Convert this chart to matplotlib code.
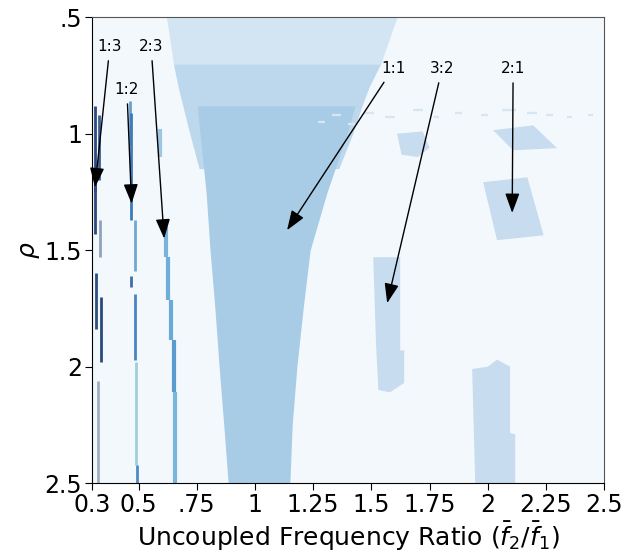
import matplotlib
matplotlib.use('Agg')
import matplotlib.pyplot as plt

# 背景與顏色
bg_color = '#f3f8fd'
tongue_color = '#a8cce5'
speckle_top_color = '#d3e5f3'
speckle_low_color = '#bdd8ec'
patch_color = '#c7dcef'

# 1:1 主要鎖頻區 (實心部分): rho 與左右邊界
tongue_rho = [0.88, 1.0, 1.25, 1.5, 1.75, 2.0, 2.25, 2.5]
tongue_left = [0.752, 0.764, 0.79, 0.807, 0.828, 0.846, 0.866, 0.885]
tongue_right = [1.43, 1.396, 1.31, 1.237, 1.207, 1.18, 1.16, 1.15]

# 1:1 上方散點區 (上層較稀, 下層較密)
speck_rho = [0.5, 0.6, 0.7]
speck_left = [0.62, 0.635, 0.65]
speck_right = [1.61, 1.575, 1.54]
speck2_rho = [0.7, 0.8, 0.88, 1.0, 1.15]
speck2_left = [0.65, 0.67, 0.69, 0.72, 0.76]
speck2_right = [1.54, 1.49, 1.46, 1.42, 1.36]

# 其他鎖頻區 (多邊形頂點: 頻率比, rho)
patch_32_x = [1.508, 1.624, 1.624, 1.641, 1.641, 1.58, 1.53, 1.52]
patch_32_y = [1.53, 1.53, 1.93, 1.93, 2.07, 2.11, 2.10, 1.90]
patch_21_x = [1.98, 2.17, 2.24, 2.04]
patch_21_y = [1.208, 1.187, 1.436, 1.457]
patch_21b_x = [2.023, 2.195, 2.298, 2.109]
patch_21b_y = [0.985, 0.964, 1.062, 1.071]
patch_32b_x = [1.61, 1.72, 1.75, 1.70, 1.63]
patch_32b_y = [1.00, 0.99, 1.06, 1.10, 1.09]
patch_low_x = [1.933, 2.0, 2.04, 2.096, 2.096, 2.118, 2.118, 1.946]
patch_low_y = [2.01, 2.0, 1.97, 2.0, 2.285, 2.29, 2.5, 2.5]

# rho 約 0.92 附近的水平散點帶 (x 範圍)
band_x0 = [1.27, 1.33, 1.40, 1.47, 1.56, 1.68, 1.77, 1.86, 1.97, 2.06, 2.17, 2.25, 2.34, 2.43]
band_x1 = [1.30, 1.37, 1.43, 1.51, 1.60, 1.72, 1.79, 1.89, 2.00, 2.12, 2.21, 2.28, 2.36, 2.45]
band_rho = [0.95, 0.92, 0.96, 0.91, 0.93, 0.90, 0.93, 0.91, 0.92, 0.90, 0.91, 0.92, 0.93, 0.92]

# 窄的鎖頻線段: (頻率比, rho 起, rho 迄, 顏色)
seg_13 = [
    (0.313, 0.88, 1.25, '#2c4a7c'),
    (0.330, 0.92, 1.20, '#3a5f94'),
    (0.315, 1.20, 1.43, '#2c4a7c'),
    (0.334, 1.37, 1.53, '#8fa3be'),
    (0.317, 1.60, 1.84, '#2e4f80'),
    (0.339, 1.70, 1.98, '#2b4a7a'),
    (0.326, 2.06, 2.50, '#a0aec2'),
]
seg_12 = [
    (0.462, 0.86, 1.05, '#6a9fcf'),
    (0.468, 0.91, 1.37, '#3d7ab8'),
    (0.485, 1.37, 1.59, '#6fa8d2'),
    (0.468, 1.61, 1.66, '#3d6fa8'),
    (0.485, 1.69, 1.97, '#4685c2'),
    (0.489, 1.98, 2.42, '#a0cfd8'),
    (0.495, 2.42, 2.50, '#4a8ccb'),
]
seg_23 = [
    (0.592, 0.98, 1.10, '#9cc6e3'),
    (0.618, 1.40, 1.53, '#78b3da'),
    (0.627, 1.53, 1.715, '#6eaed8'),
    (0.640, 1.715, 1.886, '#6aaad6'),
    (0.652, 1.886, 2.11, '#5b9ccf'),
    (0.657, 2.11, 2.50, '#78b6de'),
]

# 標註: 文字, 文字位置, 箭頭尖端
ann_text = ['1:3', '1:2', '2:3', '1:1', '3:2', '2:1']
ann_text_xy = [(0.377, 0.625), (0.45, 0.81), (0.554, 0.625),
               (1.593, 0.72), (1.804, 0.72), (2.109, 0.72)]
ann_tip_xy = [(0.313, 1.23), (0.47, 1.30), (0.61, 1.45),
              (1.138, 1.414), (1.568, 1.727), (2.105, 1.34)]

xticks = [0.3, 0.5, 0.75, 1, 1.25, 1.5, 1.75, 2, 2.25, 2.5]
xtick_labels = ['0.3', '0.5', '.75', '1', '1.25', '1.5', '1.75', '2', '2.25', '2.5']
yticks = [0.5, 1, 1.5, 2, 2.5]
ytick_labels = ['.5', '1', '1.5', '2', '2.5']

fig = plt.figure(figsize=(6.3, 5.56), dpi=100)
ax = fig.add_axes([0.146, 0.131, 0.813, 0.838])
ax.set_facecolor(bg_color)

# 鎖頻區
ax.fill_betweenx(speck_rho, speck_left, speck_right, color=speckle_top_color, lw=0)
ax.fill_betweenx(speck2_rho, speck2_left, speck2_right, color=speckle_low_color, lw=0)
ax.fill_betweenx(tongue_rho, tongue_left, tongue_right, color=tongue_color, lw=0)
ax.hlines(band_rho, band_x0, band_x1, color='#d6e6f3', lw=1.6)
for px, py in [(patch_32_x, patch_32_y), (patch_21_x, patch_21_y),
               (patch_21b_x, patch_21b_y), (patch_32b_x, patch_32b_y),
               (patch_low_x, patch_low_y)]:
    ax.fill(px, py, color=patch_color, lw=0)

# 窄線段
for segs, lw in [(seg_13, 2.0), (seg_12, 2.0), (seg_23, 3.0)]:
    for x, r0, r1, c in segs:
        ax.vlines(x, r0, r1, color=c, lw=lw)

# 標註箭頭
for t, txy, tip in zip(ann_text, ann_text_xy, ann_tip_xy):
    ax.annotate(t, xy=tip, xytext=txy, ha='center', va='center', fontsize=11,
                arrowprops=dict(arrowstyle='-|>,head_length=0.6,head_width=0.22',
                                color='black', lw=1.0, mutation_scale=20,
                                shrinkA=3, shrinkB=0))

ax.set_xlim(0.3, 2.5)
ax.set_ylim(2.5, 0.5)
ax.set_xticks(xticks)
ax.set_xticklabels(xtick_labels)
ax.set_yticks(yticks)
ax.set_yticklabels(ytick_labels)
ax.tick_params(labelsize=17, length=5, pad=2)
ax.set_xlabel(r'Uncoupled Frequency Ratio ($\bar{f}_2/\bar{f}_1$)', fontsize=18, labelpad=2)
ax.set_ylabel(r'$\rho$', fontsize=18, labelpad=2)
for s in ['top', 'right']:
    ax.spines[s].set_color('#555555')
for s in ['left', 'bottom']:
    ax.spines[s].set_color('black')

fig.savefig('out.png', dpi=100)
